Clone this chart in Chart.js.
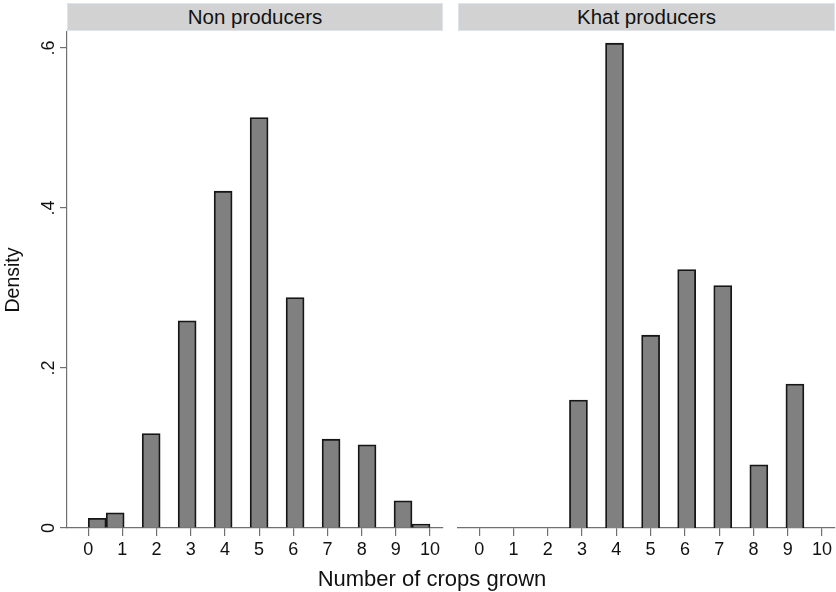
<!DOCTYPE html>
<html>
<head>
<meta charset="utf-8">
<script src="https://cdn.jsdelivr.net/npm/chart.js@4.4.1/dist/chart.umd.min.js"></script>
<style>
    body { margin: 0; background: #fff; }
    #wrap { position: relative; width: 836px; height: 592px; font-family: "Liberation Sans", Arial, sans-serif; }
    .cv { position: absolute; top: 0; }
    .hdr { position: absolute; top: 3px; height: 26px; background: #d2d2d2; border: 1px solid #dde4eb;
           font-size: 20.5px; line-height: 26px; text-align: center; color: #111; }
    #xtitle { position: absolute; top: 566px; left: 232px; width: 400px; text-align: center; font-size: 22px; color: #111; }
</style>
</head>
<body>
<div id="wrap">
    <canvas id="left_chart" class="cv" style="left:0px"></canvas>
    <canvas id="right_chart" class="cv" style="left:450px"></canvas>
    <div class="hdr" id="hdr0" style="left:67px; width:374px"></div>
    <div class="hdr" id="hdr1" style="left:458px; width:375px"></div>
    <div id="xtitle"></div>
</div>
<script>
// values (density per crop count)
var crops = [0, 1, 2, 3, 4, 5, 6, 7, 8, 9, 10];
var non_producers = [0.012, 0.019, 0.118, 0.259, 0.421, 0.513, 0.288, 0.111, 0.104, 0.034, 0.005];
var khat_producers = [0, 0, 0, 0.160, 0.606, 0.241, 0.323, 0.303, 0.079, 0.180, 0];
var panel_titles = ["Non producers", "Khat producers"];
var y_ticks = [0, 0.2, 0.4, 0.6];
var y_tick_labels = ["0", ".2", ".4", ".6"];
var x_title = "Number of crops grown";
var y_title = "Density";

var n_bins = 19;
var bin_w = 10 / n_bins;
var font = "'Liberation Sans', Arial, sans-serif";
var axis_col = "#707070";

document.getElementById("hdr0").textContent = panel_titles[0];
document.getElementById("hdr1").textContent = panel_titles[1];
document.getElementById("xtitle").textContent = x_title;

// put each crop count into its histogram bin (19 bins over 0..10)
function to_bins(vals) {
    var out = [];
    for (var b = 0; b < n_bins; b++) out.push({ x: (b + 0.5) * bin_w, y: null });
    for (var i = 0; i < crops.length; i++) {
        var b = Math.min(Math.floor(crops[i] / bin_w), n_bins - 1);
        if (vals[i] > 0) out[b].y = vals[i];
    }
    return out;
}

function make_chart(id, w, vals, show_y, pad) {
    var cv = document.getElementById(id);
    cv.width = w;
    cv.height = 592;
    cv.style.width = w + "px";
    cv.style.height = "592px";
    return new Chart(cv.getContext("2d"), {
        type: "bar",
        data: {
            datasets: [{
                data: to_bins(vals),
                backgroundColor: "#808080",
                borderColor: "#161616",
                borderWidth: 1.8,
                borderSkipped: "start",
                barPercentage: 1,
                categoryPercentage: 1
            }]
        },
        options: {
            responsive: false,
            animation: false,
            layout: { padding: pad },
            plugins: { legend: { display: false }, tooltip: { enabled: false } },
            scales: {
                x: {
                    type: "linear",
                    min: -0.62,
                    max: 10.38,
                    offset: false,
                    afterFit: function(s) { s.height = 64; },
                    afterBuildTicks: function(s) { s.ticks = crops.map(function(v) { return { value: v }; }); },
                    grid: { offset: false, drawOnChartArea: false, drawTicks: true, tickLength: 8, color: axis_col, lineWidth: 1.2 },
                    border: { display: true, color: axis_col, width: 1.2 },
                    ticks: { color: "#111", font: { family: font, size: 18 }, padding: 3, maxRotation: 0, autoSkip: false }
                },
                y: {
                    display: show_y,
                    min: 0,
                    max: 0.62,
                    afterFit: function(s) { s.width = show_y ? 67 : 0; },
                    afterBuildTicks: function(s) { s.ticks = y_ticks.map(function(v) { return { value: v }; }); },
                    grid: { offset: false, drawOnChartArea: false, drawTicks: true, tickLength: 7, color: axis_col, lineWidth: 1.2 },
                    border: { display: true, color: axis_col, width: 1.2 },
                    ticks: {
                        color: "#111",
                        font: { family: font, size: 18 },
                        minRotation: 90,
                        maxRotation: 90,
                        crossAlign: "center",
                        padding: 3,
                        callback: function(v) { return y_tick_labels[y_ticks.indexOf(v)]; }
                    },
                    title: { display: true, text: y_title, color: "#111", font: { family: font, size: 19.5 }, padding: { top: 2, bottom: 0 } }
                }
            }
        }
    });
}

var left_chart = make_chart("left_chart", 450, non_producers, true, { top: 32, right: 7, left: 0, bottom: 0 });
var right_chart = make_chart("right_chart", 386, khat_producers, false, { top: 32, right: 1, left: 8, bottom: 0 });
</script>
</body>
</html>
